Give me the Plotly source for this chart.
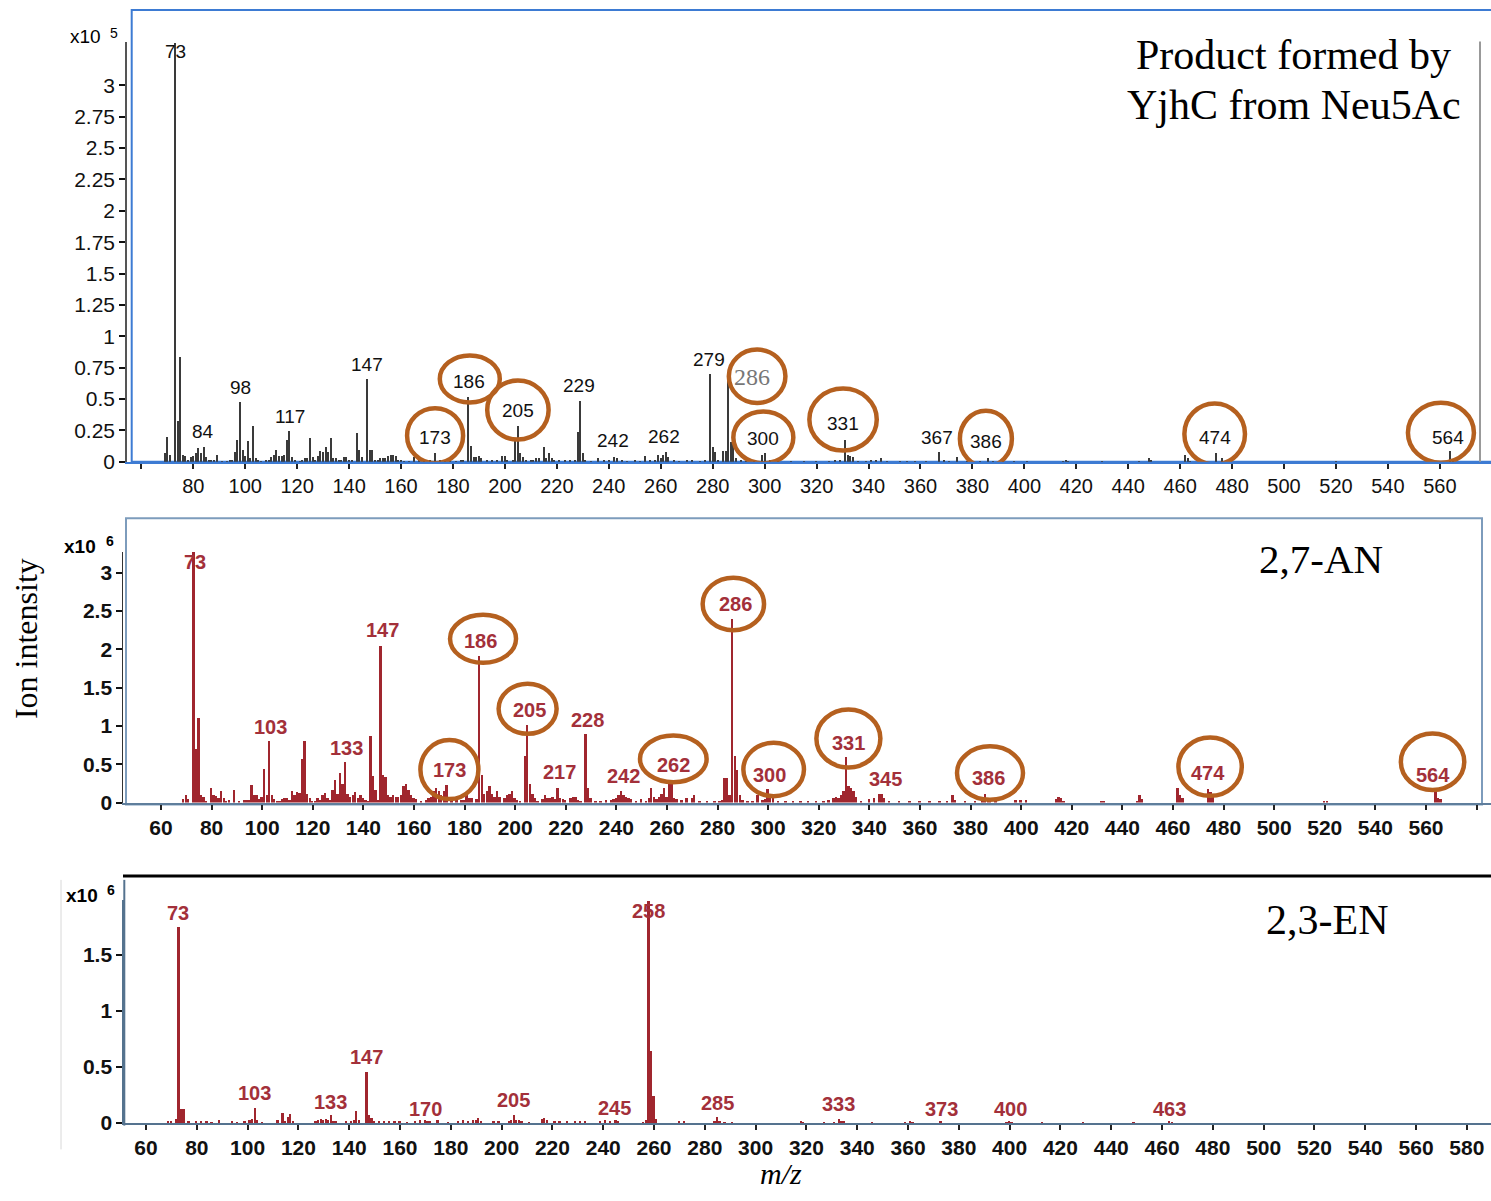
import plotly.graph_objects as go

# ---------------- data ----------------
# Top panel: product formed by YjhC from Neu5Ac (intensity x10^5)
top_mz = [69, 70, 71, 73, 74, 75, 76, 77, 78, 79,
          80, 81, 82, 83, 84, 85, 86, 87, 88, 89,
          91, 93, 94, 95, 96, 97, 98, 99, 100, 101,
          102, 103, 104, 105, 106, 108, 109, 110, 111, 112,
          113, 114, 115, 116, 117, 118, 119, 121, 122, 123,
          124, 125, 126, 127, 128, 129, 130, 131, 132, 133,
          134, 135, 136, 137, 138, 139, 140, 141, 143, 144,
          145, 147, 148, 149, 150, 151, 152, 153, 154, 155,
          156, 157, 158, 159, 160, 161, 163, 165, 167, 169,
          171, 173, 175, 177, 179, 181, 183, 184, 186, 187,
          188, 189, 190, 191, 193, 195, 197, 199, 200, 201,
          203, 204, 205, 206, 207, 208, 210, 211, 212, 213,
          215, 216, 217, 218, 219, 221, 223, 225, 227, 228,
          229, 230, 231, 233, 236, 238, 240, 242, 243, 245,
          247, 250, 252, 254, 256, 258, 259, 260, 261, 262,
          263, 265, 267, 270, 272, 275, 277, 279, 280, 281,
          282, 284, 285, 286, 287, 288, 289, 291, 293, 296,
          299, 300, 302, 305, 310, 315, 320, 325, 327, 329,
          331, 332, 333, 334, 336, 339, 341, 343, 345, 347,
          352, 355, 358, 362, 367, 369, 371, 374, 378, 383,
          386, 388, 392, 396, 401, 415, 416, 417, 430, 444,
          448, 449, 462, 463, 464, 474, 476, 520, 564, 565]
top_int = [0.07, 0.20, 0.06, 3.34, 0.33, 0.84, 0.06, 0.05, 0.02, 0.04,
           0.05, 0.07, 0.11, 0.07, 0.12, 0.04, 0.02, 0.02, 0.02, 0.06,
           0.01, 0.01, 0.02, 0.02, 0.08, 0.18, 0.48, 0.10, 0.05, 0.17,
           0.03, 0.29, 0.03, 0.02, 0.01, 0.02, 0.02, 0.04, 0.06, 0.10,
           0.05, 0.05, 0.06, 0.18, 0.25, 0.04, 0.02, 0.01, 0.02, 0.03,
           0.03, 0.19, 0.04, 0.02, 0.05, 0.09, 0.08, 0.12, 0.08, 0.19,
           0.03, 0.03, 0.02, 0.02, 0.04, 0.04, 0.02, 0.02, 0.23, 0.10,
           0.04, 0.66, 0.10, 0.10, 0.02, 0.02, 0.03, 0.03, 0.03, 0.05,
           0.06, 0.06, 0.05, 0.02, 0.02, 0.01, 0.01, 0.04, 0.02, 0.02,
           0.02, 0.07, 0.02, 0.01, 0.02, 0.01, 0.02, 0.02, 0.52, 0.13,
           0.04, 0.04, 0.05, 0.03, 0.02, 0.02, 0.02, 0.05, 0.05, 0.02,
           0.02, 0.18, 0.29, 0.07, 0.04, 0.02, 0.02, 0.02, 0.03, 0.03,
           0.12, 0.03, 0.07, 0.03, 0.02, 0.02, 0.02, 0.02, 0.02, 0.24,
           0.49, 0.07, 0.02, 0.01, 0.03, 0.02, 0.02, 0.04, 0.03, 0.02,
           0.01, 0.02, 0.01, 0.05, 0.02, 0.02, 0.06, 0.03, 0.06, 0.08,
           0.04, 0.02, 0.01, 0.02, 0.02, 0.01, 0.02, 0.70, 0.12, 0.08,
           0.02, 0.09, 0.09, 0.68, 0.16, 0.16, 0.03, 0.02, 0.01, 0.01,
           0.06, 0.07, 0.02, 0.01, 0.01, 0.01, 0.01, 0.01, 0.02, 0.02,
           0.18, 0.06, 0.05, 0.04, 0.01, 0.01, 0.02, 0.02, 0.03, 0.01,
           0.01, 0.01, 0.01, 0.01, 0.08, 0.02, 0.01, 0.04, 0.01, 0.01,
           0.03, 0.01, 0.01, 0.01, 0.01, 0.01, 0.02, 0.01, 0.01, 0.01,
           0.03, 0.02, 0.06, 0.03, 0.01, 0.07, 0.03, 0.01, 0.087, 0.02]

# Middle panel: 2,7-AN (intensity x10^6)
mid_mz = [69, 70, 71, 73, 74, 75, 76, 77, 78, 80,
          81, 82, 83, 84, 85, 86, 87, 89, 91, 93,
          94, 95, 96, 97, 98, 99, 100, 101, 102, 103,
          104, 105, 106, 107, 108, 109, 110, 111, 112, 113,
          114, 115, 116, 117, 118, 119, 120, 121, 122, 123,
          124, 125, 126, 127, 128, 129, 130, 131, 132, 133,
          134, 135, 136, 137, 138, 139, 140, 141, 142, 143,
          144, 145, 146, 147, 148, 149, 150, 151, 152, 153,
          154, 155, 156, 157, 158, 159, 160, 161, 163, 165,
          166, 167, 168, 169, 170, 171, 172, 173, 175, 177,
          179, 180, 181, 182, 183, 185, 186, 187, 188, 189,
          190, 191, 192, 193, 194, 196, 197, 198, 199, 200,
          201, 202, 204, 205, 206, 207, 208, 209, 211, 212,
          213, 214, 215, 216, 217, 218, 219, 220, 222, 223,
          224, 225, 226, 228, 229, 230, 232, 234, 236, 238,
          239, 240, 241, 242, 243, 244, 245, 246, 248, 250,
          252, 253, 254, 255, 256, 257, 258, 259, 260, 261,
          262, 263, 264, 266, 268, 270, 271, 273, 276, 279,
          281, 282, 283, 284, 285, 286, 287, 288, 289, 290,
          292, 294, 296, 298, 299, 300, 301, 302, 304, 307,
          310, 313, 316, 319, 322, 324, 326, 327, 328, 329,
          330, 331, 332, 333, 334, 335, 337, 340, 342, 344,
          345, 346, 348, 352, 356, 360, 364, 368, 371, 373,
          374, 378, 382, 385, 386, 387, 388, 390, 398, 400,
          402, 414, 415, 416, 417, 432, 433, 446, 447, 448,
          462, 463, 464, 474, 475, 476, 520, 521, 564, 565,
          566]
mid_int = [0.05, 0.10, 0.05, 3.27, 0.71, 1.11, 0.10, 0.08, 0.03, 0.19,
           0.10, 0.09, 0.06, 0.16, 0.06, 0.03, 0.04, 0.17, 0.03, 0.04,
           0.04, 0.04, 0.23, 0.10, 0.10, 0.05, 0.08, 0.44, 0.10, 0.81,
           0.10, 0.05, 0.03, 0.03, 0.05, 0.06, 0.06, 0.04, 0.16, 0.10,
           0.14, 0.13, 0.57, 0.81, 0.12, 0.06, 0.03, 0.03, 0.07, 0.04,
           0.10, 0.13, 0.07, 0.04, 0.17, 0.30, 0.12, 0.39, 0.25, 0.53,
           0.12, 0.08, 0.10, 0.14, 0.07, 0.10, 0.06, 0.04, 0.03, 0.88,
           0.35, 0.17, 0.04, 2.05, 0.36, 0.34, 0.10, 0.08, 0.10, 0.08,
           0.08, 0.10, 0.22, 0.25, 0.17, 0.10, 0.07, 0.05, 0.03, 0.04,
           0.06, 0.08, 0.15, 0.20, 0.15, 0.10, 0.15, 0.23, 0.04, 0.04,
           0.04, 0.04, 0.10, 0.06, 0.07, 0.05, 1.92, 0.37, 0.12, 0.15,
           0.22, 0.12, 0.08, 0.15, 0.08, 0.06, 0.10, 0.12, 0.15, 0.06,
           0.04, 0.03, 0.61, 1.02, 0.25, 0.12, 0.06, 0.03, 0.05, 0.10,
           0.06, 0.06, 0.08, 0.05, 0.20, 0.06, 0.05, 0.04, 0.06, 0.08,
           0.08, 0.04, 0.03, 0.90, 0.20, 0.06, 0.03, 0.03, 0.04, 0.04,
           0.05, 0.07, 0.10, 0.16, 0.10, 0.08, 0.07, 0.05, 0.03, 0.05,
           0.03, 0.06, 0.20, 0.08, 0.05, 0.08, 0.12, 0.20, 0.08, 0.25,
           0.25, 0.06, 0.05, 0.04, 0.06, 0.07, 0.10, 0.03, 0.03, 0.03,
           0.03, 0.04, 0.32, 0.33, 0.10, 2.40, 0.61, 0.43, 0.10, 0.04,
           0.03, 0.03, 0.10, 0.04, 0.05, 0.18, 0.12, 0.08, 0.03, 0.03,
           0.03, 0.03, 0.03, 0.03, 0.03, 0.04, 0.06, 0.08, 0.07, 0.10,
           0.15, 0.60, 0.22, 0.20, 0.16, 0.08, 0.03, 0.05, 0.06, 0.12,
           0.12, 0.06, 0.03, 0.02, 0.02, 0.02, 0.02, 0.02, 0.02, 0.10,
           0.04, 0.02, 0.03, 0.04, 0.12, 0.04, 0.04, 0.03, 0.04, 0.04,
           0.04, 0.05, 0.08, 0.07, 0.03, 0.03, 0.03, 0.03, 0.10, 0.05,
           0.19, 0.10, 0.06, 0.18, 0.14, 0.10, 0.02, 0.02, 0.16, 0.07,
           0.05]

# Bottom panel: 2,3-EN (intensity x10^6)
bot_mz = [69, 70, 72, 73, 74, 75, 77, 80, 82, 84,
          86, 89, 94, 96, 99, 101, 102, 103, 104, 106,
          112, 114, 115, 116, 117, 118, 127, 128, 129, 130,
          131, 132, 133, 134, 135, 139, 141, 142, 143, 144,
          147, 148, 149, 150, 152, 154, 156, 158, 160, 163,
          166, 168, 170, 171, 172, 175, 179, 183, 185, 187,
          189, 190, 191, 192, 197, 199, 203, 204, 205, 206,
          207, 208, 211, 216, 217, 218, 221, 223, 226, 229,
          231, 233, 239, 241, 243, 245, 246, 256, 257, 258,
          259, 260, 261, 270, 272, 284, 285, 286, 288, 291,
          318, 319, 327, 331, 333, 334, 335, 346, 359, 361,
          362, 373, 399, 400, 401, 413, 429, 449, 463, 464]
bot_int = [0.02, 0.02, 0.04, 1.75, 0.13, 0.13, 0.02, 0.02, 0.02, 0.02,
           0.01, 0.03, 0.02, 0.01, 0.02, 0.03, 0.04, 0.14, 0.03, 0.01,
           0.03, 0.09, 0.02, 0.06, 0.08, 0.02, 0.02, 0.03, 0.04, 0.03,
           0.04, 0.03, 0.07, 0.02, 0.02, 0.02, 0.02, 0.03, 0.11, 0.03,
           0.46, 0.07, 0.05, 0.02, 0.02, 0.02, 0.02, 0.02, 0.02, 0.01,
           0.02, 0.03, 0.03, 0.02, 0.02, 0.03, 0.01, 0.02, 0.03, 0.02,
           0.03, 0.03, 0.05, 0.02, 0.02, 0.02, 0.02, 0.03, 0.07, 0.03,
           0.03, 0.02, 0.01, 0.04, 0.05, 0.03, 0.02, 0.02, 0.02, 0.02,
           0.02, 0.02, 0.02, 0.03, 0.02, 0.03, 0.02, 0.01, 0.03, 1.98,
           0.64, 0.24, 0.04, 0.02, 0.02, 0.02, 0.06, 0.02, 0.01, 0.01,
           0.02, 0.01, 0.01, 0.01, 0.04, 0.02, 0.02, 0.01, 0.01, 0.02,
           0.01, 0.02, 0.01, 0.02, 0.01, 0.01, 0.01, 0.01, 0.02, 0.01]

# Peak labels (text, label x in m/z, label y in panel units)
top_lab_text = ["73", "84", "98", "117", "147", "173", "186", "205", "229", "242",
                "262", "279", "286", "300", "331", "367", "386", "474", "564"]
top_lab_x = [73.0, 83.7, 98.0, 117.2, 146.9, 173.1, 186.2, 205.0, 228.7, 241.8,
             261.4, 278.7, 295.3, 299.5, 330.2, 366.4, 385.2, 473.3, 563.0]
top_lab_y = [3.27, 0.239, 0.595, 0.363, 0.778, 0.192, 0.642, 0.412, 0.607, 0.172,
             0.199, 0.818, 0.673, 0.186, 0.304, 0.194, 0.160, 0.197, 0.197]
top_circled = ["173", "186", "205", "286", "300", "331", "386", "474", "564"]

mid_lab_text = ["73", "103", "133", "147", "173", "186", "205", "217", "228", "242",
                "262", "286", "300", "331", "345", "386", "474", "564"]
mid_lab_x = [73.4, 103.4, 133.4, 147.6, 174.0, 186.1, 205.5, 217.7, 228.5, 242.7,
             262.5, 286.9, 300.7, 331.7, 346.2, 387.0, 474.0, 562.6]
mid_lab_y = [3.14, 0.99, 0.71, 2.25, 0.43, 2.11, 1.21, 0.40, 1.08, 0.345,
             0.495, 2.59, 0.366, 0.78, 0.31, 0.32, 0.39, 0.366]
mid_circled = ["173", "186", "205", "262", "286", "300", "331", "386", "474", "564"]

bot_lab_text = ["73", "103", "133", "147", "170", "205", "245", "258", "285", "333",
                "373", "400", "463"]
bot_lab_x = [72.7, 102.9, 132.8, 146.9, 170.2, 204.6, 244.6, 257.8, 285.1, 332.8,
             373.0, 400.2, 462.9]
bot_lab_y = [1.87, 0.27, 0.19, 0.59, 0.12, 0.20, 0.13, 1.89, 0.18, 0.17,
             0.12, 0.12, 0.12]

# axis ticks
top_xticks = list(range(80, 580, 20))
top_xminor = [60]
top_yticks = [0, 0.25, 0.5, 0.75, 1, 1.25, 1.5, 1.75, 2, 2.25, 2.5, 2.75, 3]
top_ytext = ["0", "0.25", "0.5", "0.75", "1", "1.25", "1.5", "1.75", "2", "2.25", "2.5", "2.75", "3"]
mid_xticks = list(range(60, 580, 20))
mid_xminor = [580]
mid_yticks = [0, 0.5, 1, 1.5, 2, 2.5, 3]
mid_ytext = ["0", "0.5", "1", "1.5", "2", "2.5", "3"]
bot_xticks = list(range(60, 600, 20))
bot_yticks = [0, 0.5, 1, 1.5]
bot_ytext = ["0", "0.5", "1", "1.5"]

# ---------------- styles / layout helpers ----------------
W, H = 1491, 1201
def PX(x):
    return x / W
def PY(y):
    return 1 - y / H

SANS = "Liberation Sans, Arial, sans-serif"
SERIF = "Liberation Serif, Times New Roman, serif"
RED_TXT = "#a3303a"
RED_BAR = "#a0262e"
CIRC = "#b5601f"

# circle geometry (half-width, half-height, dx, dy in px) relative to label
top_circ_geom = {"173": (28, 27.5, 0, 2), "186": (30, 23.5, 0.7, 2.3), "205": (30.7, 29.5, 0, 0),
                 "286": (28.3, 26.7, 4.7, 1), "300": (30, 26, 0, 1), "331": (33.7, 31, 0, 4),
                 "386": (26, 28, 0, 3), "474": (30.3, 30.5, 0, 3), "564": (33, 30, -6.7, 4.3)}
mid_circ_geom = {"173": (29, 29.5, 0, 0), "186": (33, 24, 3, 2), "205": (29, 25, -1.5, 1),
                 "262": (33.3, 23.3, 0, 5.7), "286": (30.7, 26.3, -1.7, 0), "300": (30.3, 26.7, 3.7, 5),
                 "331": (32, 29, 0, 4.3), "386": (33, 26.7, 1.7, 5), "474": (31.7, 29.2, 1.7, 6),
                 "564": (31.7, 28.2, 0, 12.7)}

fig = go.Figure()
fig.add_trace(go.Bar(x=top_mz, y=top_int, width=0.45, xaxis="x", yaxis="y",
                     marker=dict(color="#3a3a3a", line=dict(width=0)),
                     showlegend=False, hoverinfo="skip"))
fig.add_trace(go.Bar(x=mid_mz, y=mid_int, width=0.75, xaxis="x2", yaxis="y2",
                     marker=dict(color=RED_BAR, line=dict(width=0)),
                     showlegend=False, hoverinfo="skip"))
fig.add_trace(go.Bar(x=bot_mz, y=bot_int, width=0.7, xaxis="x3", yaxis="y3",
                     marker=dict(color=RED_BAR, line=dict(width=0)),
                     showlegend=False, hoverinfo="skip"))

annotations = []
shapes = []

def add_labels(texts, xs, ys, xref, yref, font, special=None):
    for t, x, y in zip(texts, xs, ys):
        f = dict(font)
        if special and t in special:
            f = special[t]
        annotations.append(dict(x=x, y=y, xref=xref, yref=yref, text=t, showarrow=False,
                                xanchor="center", yanchor="middle", font=f))

def add_circles(texts, xs, ys, circled, geom, xref, yref):
    for t, x, y in zip(texts, xs, ys):
        if t in circled:
            rx, ry, dx, dy = geom[t]
            shapes.append(dict(type="circle", xref=xref, yref=yref,
                               xsizemode="pixel", ysizemode="pixel", xanchor=x, yanchor=y,
                               x0=dx - rx, x1=dx + rx, y0=dy - ry, y1=dy + ry,
                               line=dict(color=CIRC, width=4.5), layer="above"))

add_labels(top_lab_text, top_lab_x, top_lab_y, "x", "y",
           dict(family=SANS, size=19, color="#111"),
           special={"286": dict(family=SERIF, size=24, color="#777")})
add_circles(top_lab_text, top_lab_x, top_lab_y, top_circled, top_circ_geom, "x", "y")

add_labels(mid_lab_text, mid_lab_x, mid_lab_y, "x2", "y2",
           dict(family=SANS, size=20, color=RED_TXT, weight="bold"))
add_circles(mid_lab_text, mid_lab_x, mid_lab_y, mid_circled, mid_circ_geom, "x2", "y2")

add_labels(bot_lab_text, bot_lab_x, bot_lab_y, "x3", "y3",
           dict(family=SANS, size=20, color=RED_TXT, weight="bold"))

# panel frames
shapes.append(dict(type="rect", xref="paper", yref="paper", x0=PX(131.7), x1=1.003,
                   y0=PY(466), y1=PY(10), line=dict(color="#3d7bd3", width=2), layer="below"))
shapes.append(dict(type="line", xref="paper", yref="paper", x0=PX(1480), x1=PX(1480),
                   y0=PY(466), y1=PY(42), line=dict(color="#999", width=2)))
shapes.append(dict(type="rect", xref="paper", yref="paper", x0=PX(126), x1=PX(1482),
                   y0=PY(812), y1=PY(523), line=dict(color="#7d9cbc", width=2), layer="below"))
shapes.append(dict(type="line", xref="paper", yref="paper", x0=PX(123), x1=1.0,
                   y0=PY(884), y1=PY(884), line=dict(color="#000", width=3)))
shapes.append(dict(type="line", xref="paper", yref="paper", x0=PX(61), x1=PX(61),
                   y0=PY(1160), y1=PY(888), line=dict(color="#d8d8d8", width=1)))
shapes.append(dict(type="line", xref="paper", yref="paper", x0=PX(124.3), x1=PX(124.3),
                   y0=PY(1136), y1=PY(888), line=dict(color="#55738f", width=2)))

def ptext(x, y, text, font, xanchor="center", angle=0):
    annotations.append(dict(x=PX(x), y=PY(y), xref="paper", yref="paper", text=text,
                            showarrow=False, xanchor=xanchor, yanchor="middle",
                            textangle=angle, font=font))

ptext(1293, 56, "Product formed by", dict(family=SERIF, size=42, color="#000"))
ptext(1294, 106, "YjhC from Neu5Ac", dict(family=SERIF, size=42, color="#000"))
ptext(1320.5, 564, "2,7-AN", dict(family=SERIF, size=41, color="#000"))
ptext(1327, 928.5, "2,3-EN", dict(family=SERIF, size=42, color="#000"))
ptext(26, 645, "Ion intensity", dict(family=SERIF, size=32, color="#000"), angle=-90)
ptext(780.5, 1184, "<i>m/z</i>", dict(family=SERIF, size=30, color="#000"))
# multiplier labels
ptext(68, 37, "x10", dict(family=SANS, size=19, color="#000"), xanchor="left")
ptext(114.5, 33, "5", dict(family=SANS, size=14, color="#000"))
ptext(62, 552, "x10", dict(family=SANS, size=19, color="#000", weight="bold"), xanchor="left")
ptext(109.5, 546, "6", dict(family=SANS, size=14, color="#000", weight="bold"))
ptext(64, 904, "x10", dict(family=SANS, size=19, color="#000", weight="bold"), xanchor="left")
ptext(111, 898, "6", dict(family=SANS, size=14, color="#000", weight="bold"))

def xax(domain, rng, anchor, vals, minor_vals, linecolor, size, weight):
    d = dict(domain=domain, range=rng, anchor=anchor, tickmode="array", tickvals=vals,
             ticktext=[str(v) for v in vals],
             ticks="outside", ticklen=5, tickwidth=1.5, tickcolor="#222",
             showline=True, linecolor=linecolor, linewidth=2, showgrid=False,
             zeroline=False, fixedrange=True,
             tickfont=dict(family=SANS, size=size, color="#111", weight=weight))
    if minor_vals:
        d["minor"] = dict(tickmode="array", tickvals=minor_vals, ticks="outside", ticklen=5,
                          tickwidth=1.5, tickcolor="#222", showgrid=False)
    return d

def yax(domain, rng, anchor, vals, text, linecolor, size, lw, weight):
    return dict(domain=domain, range=rng, anchor=anchor, tickmode="array", tickvals=vals,
                ticktext=text, ticks="outside", ticklen=6, tickwidth=2, tickcolor="#111",
                showline=True, linecolor=linecolor, linewidth=lw, showgrid=False,
                zeroline=False, fixedrange=True,
                tickfont=dict(family=SANS, size=size, color="#111", weight=weight))

fig.update_layout(
    width=W, height=H, margin=dict(l=0, r=0, t=0, b=0),
    paper_bgcolor="white", plot_bgcolor="rgba(0,0,0,0)",
    bargap=0, showlegend=False,
    xaxis=xax([PX(127), 1], [54.47, 579.7], "y", top_xticks, top_xminor, "#3d7bd3", 20, "normal"),
    yaxis=yax([PY(466), PY(42)], [0, 3.349], "x", top_yticks, top_ytext, "#555", 21, 1.5, "normal"),
    xaxis2=xax([PX(123.3), 1], [45.1, 585.7], "y2", mid_xticks, mid_xminor, "#5f7e9c", 21, "bold"),
    yaxis2=yax([PY(810), PY(556.7)], [0, 3.273], "x2", mid_yticks, mid_ytext, "#333", 21, 1, "bold"),
    xaxis3=xax([PX(124.3), 1], [51.46, 589.5], "y3", bot_xticks, None, "#55738f", 21, "bold"),
    yaxis3=yax([PY(1133.3), PY(908)], [0, 1.989], "x3", bot_yticks, bot_ytext, "#55738f", 21, 2, "bold"),
    annotations=annotations,
    shapes=shapes,
)

fig.write_html("out.html")
